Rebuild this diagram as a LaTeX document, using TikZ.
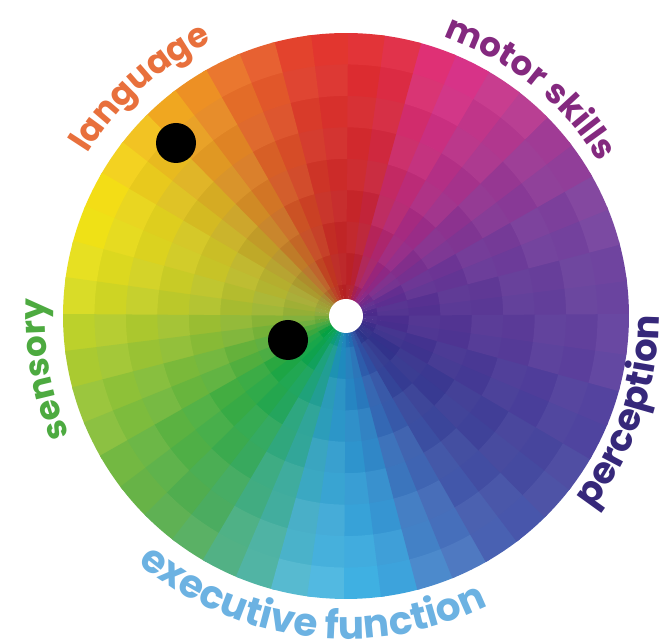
\documentclass[tikz,border=0pt]{standalone}
\usepackage{fontspec}
\usetikzlibrary{decorations.text}
\newfontfamily\lblfont{Poppins}
\newcommand\lblstyle{\lblfont\bfseries\fontsize{34}{34}\selectfont}
\newcommand\lblstylebig{\lblfont\bfseries\fontsize{37}{37}\selectfont}
\newcommand\lblstyleexec{\lblfont\bfseries\fontsize{39}{39}\selectfont}
\definecolor{langc}{HTML}{E8703C}
\definecolor{motorc}{HTML}{84297F}
\definecolor{sensc}{HTML}{4DAA40}
\definecolor{percc}{HTML}{36287A}
\definecolor{execc}{HTML}{6CB2E2}
\tikzset{
  dotmark/.style={circle, fill=black, minimum size=40pt, inner sep=0pt},
  hole/.style={circle, fill=white, minimum size=34pt, inner sep=0pt},
  arclabel/.style={decorate, decoration={text along path, text align=center}}
}
\begin{document}
\begin{tikzpicture}[x=1pt,y=1pt]
\useasboundingbox (0,0) rectangle (669,644);
\fill[white] (0,0) rectangle (669,644);
\begin{scope}[shift={(346,328)}]
% key colours: outer (o) and inner (i) for each 15-degree sector
\foreach \co/\ci [count=\i] in {
  6E46A0/4A2A8A, 7C46A0/5A2A8E, 9A3D98/702A8A, C33A8E/8A2280,
  E2338A/A0205A, E42C34/B21E24, E53A2E/B31F22, EB6A2C/B8311E,
  F3A021/B0602A, F8D01A/9C8A30, F8E612/9CA03A, E8E21C/8EA63A,
  B6CF2E/6BA83A, 96C43A/38A33E, 72B644/00A040, 5BAE52/00A050,
  55B494/0D9A80, 56BCE2/1486B8, 3BB2E6/1E6FB4, 4C7FC6/2A4CA0,
  4A5CB0/2C3288, 4A4CA2/2E2C86, 5244A0/3A2C88, 6444A0/45298A}
{
  \xglobal\definecolor{o\i}{HTML}{\co}
  \xglobal\definecolor{i\i}{HTML}{\ci}
}
\foreach \i in {1,...,24} {
  \pgfmathtruncatemacro\prv{mod(\i+22,24)+1}
  \pgfmathtruncatemacro\nxt{mod(\i,24)+1}
  \pgfmathsetmacro\a{15*\i-7.5}
  \foreach \h/\nb in {0/\prv,1/\nxt} {
    \colorlet{tO}{o\i!78!o\nb}
    \colorlet{tI}{i\i!78!i\nb}
    \pgfmathsetmacro\sa{\a-7.5+7.5*\h-0.4}
    \pgfmathsetmacro\sb{\a+7.5*\h+0.4}
    \foreach \j in {0,...,8} {
      \pgfmathsetmacro\rA{max(283*\j/9,6)}
      \pgfmathsetmacro\rB{min(283*(\j+1)/9+0.6,283)}
      \pgfmathtruncatemacro\p{(\j+0.5)/9*100}
      \pgfmathtruncatemacro\q{mod(\i+\j,2)==0 ? 97 : 100}
      \fill[tO!\p!tI!\q!white] (\sa:\rA) arc[start angle=\sa, end angle=\sb, radius=\rA]
        -- (\sb:\rB) arc[start angle=\sb, end angle=\sa, radius=\rB] -- cycle;
    }
  }
}
\node[hole] (centre) at (0,0) {};
\path[arclabel, decoration={text={|\lblstyle|language}, text color=langc}]
  (152:305) arc[start angle=152, end angle=112, radius=305];
\path[arclabel, decoration={text={|\lblstyle|motor skills}, text color=motorc}]
  (85:296) arc[start angle=85, end angle=17, radius=296];
\path[arclabel, decoration={text={|\lblstyle|sensory}, text color=sensc}]
  (215:301) arc[start angle=215, end angle=165, radius=301];
\path[arclabel, decoration={text={|\lblstylebig|perception}, text color=percc}]
  (-51:313) arc[start angle=-51, end angle=13, radius=313];
\path[arclabel, decoration={text={|\lblstyleexec|executive function}, text color=execc}]
  (212:323) arc[start angle=212, end angle=314, radius=323];
\end{scope}
\node[dotmark] (dotA) at (176,501) {};
\node[dotmark] (dotB) at (288,304) {};
\end{tikzpicture}
\end{document}
